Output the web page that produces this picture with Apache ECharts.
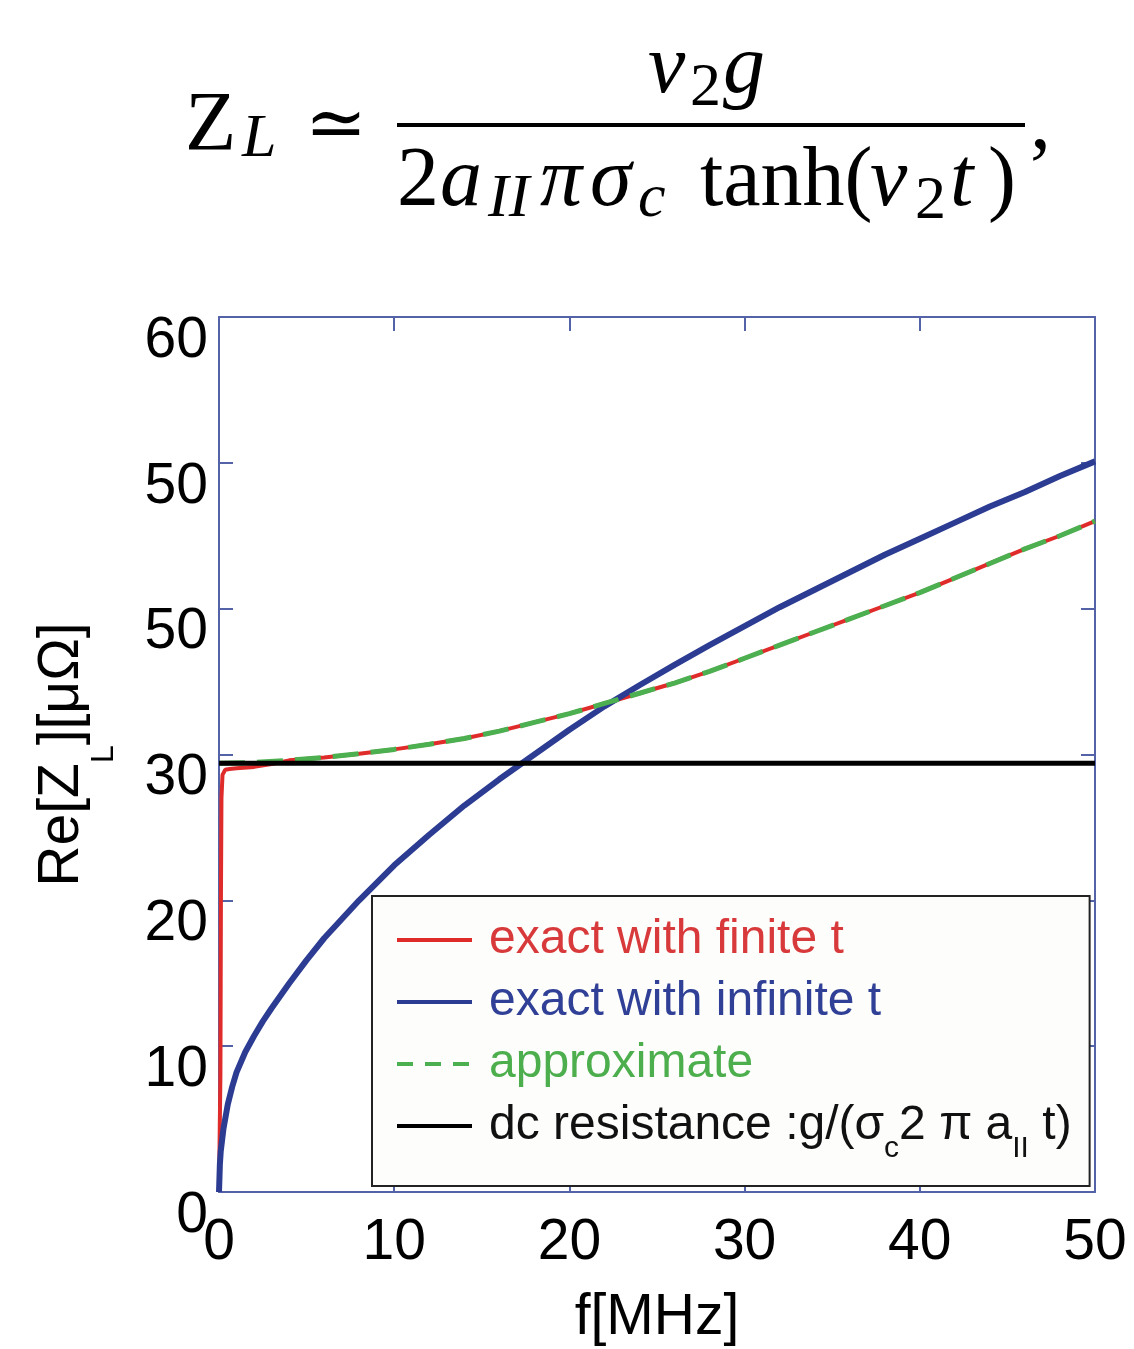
<!DOCTYPE html>
<html>
<head>
<meta charset="utf-8">
<script src="https://cdn.jsdelivr.net/npm/echarts@6/dist/echarts.min.js"></script>
<style>
  html, body { margin: 0; padding: 0; background: #fff; }
  #chart { width: 1134px; height: 1349px; }
</style>
</head>
<body>
<div id="chart"></div>
<script>
// values (f in MHz, Re[Z_L] in micro-ohm)
var fBlue = [0, 0.05, 0.1, 0.25, 0.5, 0.75, 1, 1.5, 2, 2.5, 3, 4, 5, 6, 7, 8, 9, 10, 12, 14, 16, 18, 20, 22, 24, 26, 28, 30, 32, 34, 36, 38, 40, 42, 44, 46, 48, 50];
var blueVals = [0, 1.9, 2.8, 4.3, 6.0, 7.2, 8.2, 9.6, 10.7, 11.7, 12.6, 14.3, 15.9, 17.4, 18.7, 20.0, 21.2, 22.4, 24.5, 26.5, 28.3, 30.0, 31.7, 33.3, 34.75, 36.15, 37.5, 38.8, 40.1, 41.3, 42.5, 43.7, 44.8, 45.9, 47.0, 48.0, 49.1, 50.1];

var fRed = [0, 0.08, 0.11, 0.14, 0.2, 0.35, 0.6, 1, 2, 3, 4, 6, 8, 10, 12, 14, 16, 18, 20, 22, 24, 26, 28, 30, 32, 34, 36, 38, 40, 42, 44, 46, 48, 50];
var redVals = [0, 8, 20, 27, 28.6, 28.95, 29.0, 29.05, 29.15, 29.35, 29.6, 29.8, 30.05, 30.35, 30.7, 31.1, 31.6, 32.2, 32.8, 33.5, 34.2, 34.9, 35.7, 36.6, 37.5, 38.4, 39.3, 40.2, 41.1, 42.1, 43.1, 44.1, 45.0, 46.0];

var fApprox = [0, 2, 4, 6, 8, 10, 12, 14, 16, 18, 20, 22, 24, 26, 28, 30, 32, 34, 36, 38, 40, 42, 44, 46, 48, 50];
var approxVals = [29.4, 29.45, 29.6, 29.8, 30.05, 30.35, 30.7, 31.1, 31.6, 32.2, 32.8, 33.5, 34.2, 34.9, 35.7, 36.6, 37.5, 38.4, 39.3, 40.2, 41.1, 42.1, 43.1, 44.1, 45.0, 46.0];

var fDc = [0, 50];
var dcVals = [29.4, 29.4];

var seriesNames = ['exact with finite t', 'exact with infinite t', 'approximate', 'dc resistance'];
var xTickLabels = ['0', '10', '20', '30', '40', '50'];
var yTickLabels = ['0', '10', '20', '30', '50', '50', '60'];   // as printed in the original

function pairs(xs, ys) {
  return xs.map(function (x, i) { return [x, ys[i]]; });
}

var frameColor = '#5463a8';
var sans = 'Liberation Sans, Arial, sans-serif';
var serif = 'Liberation Serif, DejaVu Serif, serif';

var myChart = echarts.init(document.getElementById('chart'), null, { renderer: 'canvas' });

var axisBase = {
  type: 'value',
  axisLine: { show: true, onZero: false, lineStyle: { color: frameColor, width: 2 } },
  axisTick: { show: true, inside: true, length: 14, lineStyle: { color: frameColor, width: 2 } },
  splitLine: { show: false }
};

// math text helpers (main glyphs and lowered subscripts)
function mathRich(extra) {
  var base = {
    r: { fontSize: 84, lineHeight: 84, fontFamily: serif, verticalAlign: 'top', fill: '#000' },
    i: { fontSize: 84, lineHeight: 84, fontFamily: serif, fontStyle: 'italic', verticalAlign: 'top', fill: '#000' }
  };
  return Object.assign(base, extra || {});
}

myChart.setOption({
  backgroundColor: '#fff',
  animation: false,
  grid: { left: 219, top: 317, width: 876, height: 875, containLabel: false, outerBoundsMode: 'none' },
  xAxis: [
    Object.assign({}, axisBase, {
      position: 'bottom', min: 0, max: 50, interval: 10,
      axisLabel: {
        margin: 23, fontSize: 57, lineHeight: 57, color: '#000', fontFamily: sans,
        formatter: function (v) { return xTickLabels[Math.round(v / 10)]; }
      },
      name: 'f[MHz]', nameLocation: 'middle', nameGap: 98,
      nameTextStyle: { fontSize: 57, lineHeight: 57, color: '#000', fontFamily: sans }
    }),
    Object.assign({}, axisBase, {
      position: 'top', min: 0, max: 50, interval: 10, axisLabel: { show: false }
    })
  ],
  yAxis: [
    Object.assign({}, axisBase, {
      position: 'left', min: 0, max: 60, interval: 10,
      axisLabel: {
        margin: 11, fontSize: 57, lineHeight: 48, verticalAlign: 'top', color: '#000', fontFamily: sans,
        formatter: function (v) { return yTickLabels[Math.round(v / 10)]; }
      },
      name: '{n|Re[Z}{s|L}{n|][μΩ]}', nameLocation: 'middle', nameGap: 128, nameRotate: 90,
      nameTextStyle: {
        color: '#000', fontFamily: sans, fontSize: 57,
        rich: {
          n: { fontSize: 57, lineHeight: 57, verticalAlign: 'middle', fontFamily: sans, color: '#000' },
          s: { fontSize: 32, lineHeight: 57, verticalAlign: 'top', padding: [54, 0, 0, 0], fontFamily: sans, color: '#000' }
        }
      }
    }),
    Object.assign({}, axisBase, {
      position: 'right', min: 0, max: 60, interval: 10, axisLabel: { show: false }
    })
  ],
  legend: {
    orient: 'vertical', left: 372, top: 896,
    padding: [14, 18, 22, 23], itemGap: 2, itemWidth: 75, itemHeight: 20,
    backgroundColor: '#fdfdfb', borderColor: '#222', borderWidth: 2,
    itemStyle: { opacity: 0 },
    lineStyle: { width: 4 },
    textStyle: {
      fontSize: 48, lineHeight: 60, fontFamily: sans, padding: [0, 0, 0, 12],
      rich: {
        n: { fontSize: 48, lineHeight: 60, fontFamily: sans, color: '#111', verticalAlign: 'middle' },
        s: { fontSize: 30, lineHeight: 60, fontFamily: sans, color: '#111', verticalAlign: 'top', padding: [38, 0, 0, 0] }
      }
    },
    formatter: function (name) {
      if (name === 'dc resistance') {
        return '{n|dc resistance :g/(σ}{s|c}{n|2 π a}{s|II}{n| t)}';
      }
      return name;
    },
    data: [
      { name: seriesNames[0], textStyle: { color: '#d8393b' } },
      { name: seriesNames[1], textStyle: { color: '#2f4096' } },
      { name: seriesNames[2], textStyle: { color: '#4cae4c' }, lineStyle: { type: [16, 12] } },
      { name: seriesNames[3], textStyle: { color: '#111' } }
    ]
  },
  graphic: [
    {
      type: 'text', left: 185, top: 86, z: 10,
      style: {
        text: '{z|Z}{l|L}{sp| }{eq|≃}',
        rich: mathRich({
          z: { fontSize: 84, lineHeight: 84, fontFamily: serif, verticalAlign: 'top', width: 57, fill: '#000' },
          l: { fontSize: 62, lineHeight: 84, fontFamily: serif, fontStyle: 'italic', verticalAlign: 'top', padding: [23, 0, 0, 0], width: 45, fill: '#000' },
          sp: { fontSize: 84, lineHeight: 84, fontFamily: serif, verticalAlign: 'top', width: 18 },
          eq: { fontSize: 74, lineHeight: 84, fontFamily: serif, verticalAlign: 'top', padding: [6, 0, 0, 0], fill: '#000' }
        })
      }
    },
    {
      type: 'text', left: 648, top: 28, z: 10,
      style: {
        text: '{nv|ν}{n2|2}{i|g}',
        rich: mathRich({
          nv: { fontSize: 84, lineHeight: 84, fontFamily: serif, fontStyle: 'italic', verticalAlign: 'top', width: 42, fill: '#000' },
          n2: { fontSize: 62, lineHeight: 84, fontFamily: serif, verticalAlign: 'top', padding: [30, 0, 0, 0], width: 33, fill: '#000' }
        })
      }
    },
    {
      type: 'line', z: 10,
      shape: { x1: 397, y1: 125, x2: 1025, y2: 125 },
      style: { stroke: '#000', lineWidth: 4 }
    },
    {
      type: 'text', left: 397, top: 141, z: 10,
      style: {
        text: '{d2|2}{da|a}{dII|II}{dpi|π}{dsig|σ}{dc|c}{dtanh|tanh(}{dnu|ν}{dn2|2}{dt|t}{r|)}',
        rich: mathRich({
          d2: { fontSize: 84, lineHeight: 84, fontFamily: serif, verticalAlign: 'top', width: 43, fill: '#000' },
          da: { fontSize: 84, lineHeight: 84, fontFamily: serif, fontStyle: 'italic', verticalAlign: 'top', width: 48, fill: '#000' },
          dII: { fontSize: 62, lineHeight: 84, fontFamily: serif, fontStyle: 'italic', verticalAlign: 'top', padding: [28, 0, 0, 0], width: 52, fill: '#000' },
          dpi: { fontSize: 84, lineHeight: 84, fontFamily: serif, fontStyle: 'italic', verticalAlign: 'top', width: 50, fill: '#000' },
          dsig: { fontSize: 84, lineHeight: 84, fontFamily: serif, fontStyle: 'italic', verticalAlign: 'top', width: 48, fill: '#000' },
          dc: { fontSize: 62, lineHeight: 84, fontFamily: serif, fontStyle: 'italic', verticalAlign: 'top', padding: [28, 0, 0, 0], width: 62, fill: '#000' },
          dtanh: { fontSize: 84, lineHeight: 84, fontFamily: serif, verticalAlign: 'top', width: 170, fill: '#000' },
          dnu: { fontSize: 84, lineHeight: 84, fontFamily: serif, fontStyle: 'italic', verticalAlign: 'top', width: 45, fill: '#000' },
          dn2: { fontSize: 62, lineHeight: 84, fontFamily: serif, verticalAlign: 'top', padding: [30, 0, 0, 0], width: 35, fill: '#000' },
          dt: { fontSize: 84, lineHeight: 84, fontFamily: serif, fontStyle: 'italic', verticalAlign: 'top', width: 38, fill: '#000' }
        })
      }
    },
    {
      type: 'text', left: 1030, top: 84, z: 10,
      style: { text: ',', fontSize: 84, lineHeight: 84, fontFamily: serif, fill: '#000' }
    }
  ],
  series: [
    {
      name: seriesNames[0], type: 'line', symbol: 'none', z: 2,
      data: pairs(fRed, redVals),
      lineStyle: { color: '#e02b2b', width: 4 }, itemStyle: { color: '#e02b2b' }
    },
    {
      name: seriesNames[1], type: 'line', symbol: 'none', z: 3,
      data: pairs(fBlue, blueVals),
      lineStyle: { color: '#2b3c92', width: 6 }, itemStyle: { color: '#2b3c92' }
    },
    {
      name: seriesNames[2], type: 'line', symbol: 'none', z: 4,
      data: pairs(fApprox, approxVals),
      lineStyle: { color: '#4caf50', width: 5, type: [26, 12] }, itemStyle: { color: '#4caf50' }
    },
    {
      name: seriesNames[3], type: 'line', symbol: 'none', z: 5,
      data: pairs(fDc, dcVals),
      lineStyle: { color: '#000', width: 5 }, itemStyle: { color: '#000' }
    }
  ]
});
</script>
</body>
</html>
